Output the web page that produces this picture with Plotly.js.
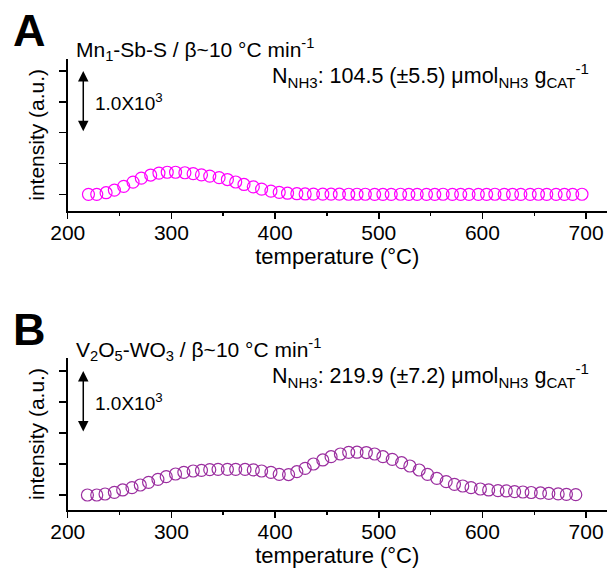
<!DOCTYPE html>
<html>
<head>
<meta charset="utf-8">
<script src="https://cdn.plot.ly/plotly-3.0.1.min.js"></script>
<style>html,body{margin:0;padding:0;background:#fff;}#chart{width:609px;height:572px;}</style>
</head>
<body>
<div id="chart"></div>
<script>
// Panel A: Mn1-Sb-S
const tempA = [220, 228, 237, 245, 254, 263, 271, 280, 288, 296, 304, 313, 321, 329, 337, 346, 354, 362, 370, 379,
  387, 396, 404, 412, 421, 429, 437, 446, 454, 462, 471, 479, 487, 496, 504, 512, 521, 529, 537, 546,
  554, 562, 571, 579, 587, 596, 604, 612, 621, 629, 637, 646, 654, 662, 671, 679, 687, 696];
const intensityA = [0, 0, 26, 69, 129, 198, 262, 313, 345, 358, 358, 350, 335, 316, 296, 272, 240, 200, 160, 122,
  85, 53, 32, 18, 10, 6, 4, 3, 2, 2, 1, 1, 1, 0, 0, 0, 1, 0, 0, 0,
  0, 1, 0, 0, 0, 0, 0, 1, 0, 0, 0, 0, 1, 0, 0, 0, 0, 1];
// Panel B: V2O5-WO3
const tempB = [219, 228, 236, 245, 253, 262, 270, 278, 287, 295, 304, 312, 321, 329, 337, 345, 354, 362, 371, 379,
  387, 396, 404, 413, 421, 429, 437, 446, 454, 463, 471, 479, 488, 496, 504, 513, 522, 530, 539, 547,
  556, 565, 573, 581, 589, 598, 606, 615, 623, 631, 639, 647, 656, 664, 673, 681, 690];
const intensityB = [0, 0, 16, 43, 81, 118, 161, 204, 253, 296, 339, 366, 387, 398, 409, 414, 414, 414, 412, 405,
  387, 366, 333, 330, 376, 430, 500, 565, 618, 661, 688, 690, 685, 661, 618, 575, 521, 468, 403, 333,
  269, 215, 172, 145, 118, 97, 81, 70, 65, 54, 48, 40, 33, 25, 18, 10, 5];

const xTicks = [200, 300, 400, 500, 600, 700];
const xTickText = ['200', '300', '400', '500', '600', '700'];
const yTicks = [0, 500, 1000, 1500, 2000];
const panelLabels = ['A', 'B'];
const sampleTitles = ['Mn<sub>1</sub>-Sb-S / β~10 °C min<sup>-1</sup>',
  'V<sub>2</sub>O<sub>5</sub>-WO<sub>3</sub> / β~10 °C min<sup>-1</sup>'];
const acidityTexts = ['N<sub>NH3</sub>: 104.5 (±5.5) μmol<sub>NH3</sub> g<sub>CAT</sub><sup>-1</sup>',
  'N<sub>NH3</sub>: 219.9 (±7.2) μmol<sub>NH3</sub> g<sub>CAT</sub><sup>-1</sup>'];
const scaleBarText = '1.0X10<sup>3</sup>';
const scaleBar = [1000, 2000];
const xTitle = 'temperature (°C)';
const yTitle = 'intensity (a.u.)';

const FONT = 'Liberation Sans, Arial, Helvetica, sans-serif';

const traces = [
  {x: tempA, y: intensityA, xaxis: 'x', yaxis: 'y', type: 'scatter', mode: 'markers',
   marker: {symbol: 'circle-open', size: 12, color: '#FF00FF', line: {width: 1.2, color: '#FF00FF'}},
   hoverinfo: 'x+y'},
  {x: tempB, y: intensityB, xaxis: 'x2', yaxis: 'y2', type: 'scatter', mode: 'markers',
   marker: {symbol: 'circle-open', size: 12, color: '#9B2FA0', line: {width: 1.2, color: '#9B2FA0'}},
   hoverinfo: 'x+y'}
];

function xAxis(anchor) {
  return {
    domain: [0.1112, 0.9965], anchor: anchor, range: [200, 720],
    tickvals: xTicks, ticktext: xTickText, ticks: 'outside', ticklen: 6, tickwidth: 1.5, tickcolor: '#000',
    minor: {dtick: 50, tick0: 0, ticks: 'outside', ticklen: 3, tickwidth: 1.5, tickcolor: '#000', showgrid: false},
    showline: true, linewidth: 1.8, linecolor: '#000', showgrid: false, zeroline: false, automargin: false,
    tickfont: {family: FONT, size: 21, color: '#000'}, ticklabelstandoff: -4,
    title: {text: xTitle, font: {family: FONT, size: 22, color: '#000'}, standoff: 2}
  };
}
function yAxis(domain, anchor, range) {
  return {
    domain: domain, anchor: anchor, range: range,
    tickvals: yTicks, showticklabels: false, ticks: 'outside', ticklen: 7, tickwidth: 1.5, tickcolor: '#000',
    showline: true, linewidth: 1.8, linecolor: '#000', showgrid: false, zeroline: false, automargin: false,
    title: {text: yTitle, font: {family: FONT, size: 21, color: '#000'}, standoff: 8}
  };
}

const titleFont = {family: FONT, size: 21, color: '#000'};
const acidFont = {family: FONT, size: 21.5, color: '#000'};
const barFont = {family: FONT, size: 19, color: '#000'};
function panelAnnotations(i, xref, yref, topPx) {
  return [
    {xref: 'paper', yref: 'paper', x: 29 / 609, y: 1 - (topPx.letter) / 572, xanchor: 'center', yanchor: 'middle',
     text: '<b>' + panelLabels[i] + '</b>', showarrow: false, font: {family: FONT, size: 45, color: '#000'}},
    {xref: 'paper', yref: 'paper', x: 75 / 609, y: 1 - (topPx.title) / 572, xanchor: 'left', yanchor: 'middle',
     text: sampleTitles[i], showarrow: false, font: titleFont, borderpad: 0},
    {xref: 'paper', yref: 'paper', x: 590 / 609, y: 1 - (topPx.acid) / 572, xanchor: 'right', yanchor: 'middle',
     text: acidityTexts[i], showarrow: false, font: acidFont, borderpad: 0},
    {xref: xref, yref: yref, x: 215, y: scaleBar[1], ax: 215, ay: scaleBar[0], axref: xref, ayref: yref,
     text: '', showarrow: true, arrowside: 'end+start', arrowhead: 2, arrowsize: 1.4, arrowwidth: 1.5,
     arrowcolor: '#000', standoff: 0, startstandoff: 0},
    {xref: xref, yref: yref, x: 224, y: (scaleBar[0] + scaleBar[1]) / 2, xanchor: 'left', yanchor: 'middle',
     text: scaleBarText, showarrow: false, font: barFont}
  ];
}

const layout = {
  width: 609, height: 572,
  margin: {l: 0, r: 0, t: 0, b: 0},
  paper_bgcolor: '#fff', plot_bgcolor: '#fff',
  showlegend: false,
  font: {family: FONT, color: '#000'},
  xaxis: xAxis('y'),
  yaxis: yAxis([0.6316, 0.8969], 'x', [-266, 2196]),
  xaxis2: xAxis('y2'),
  yaxis2: yAxis([0.1084, 0.3741], 'x2', [-242, 2210]),
  annotations: [].concat(
    panelAnnotations(0, 'x', 'y', {letter: 31, title: 50, acid: 75}),
    panelAnnotations(1, 'x2', 'y2', {letter: 329, title: 349, acid: 375})
  )
};

Plotly.newPlot('chart', traces, layout, {displayModeBar: false, staticPlot: true});
</script>
</body>
</html>
